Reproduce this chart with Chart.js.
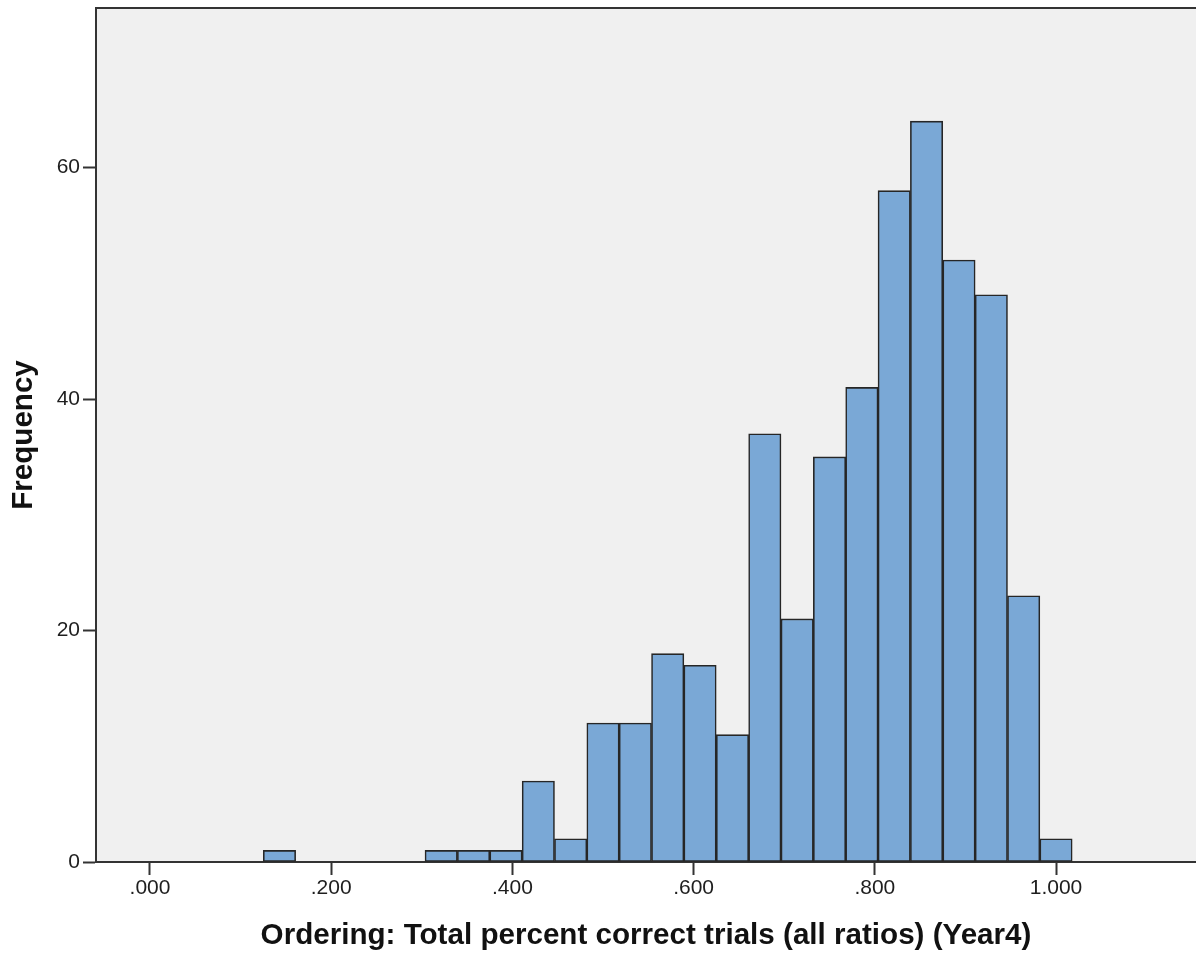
<!DOCTYPE html>
<html>
<head>
<meta charset="utf-8">
<script src="https://cdn.jsdelivr.net/npm/chart.js@4.4.1/dist/chart.umd.min.js"></script>
<style>
  html, body { margin: 0; padding: 0; background: #ffffff; }
  #histo { display: block; }
</style>
</head>
<body>
<canvas id="histo" width="1196" height="954"></canvas>
<script>
  // bin centres (bins are 1/28 wide, starting at .125)
  const binCenters = [0.1429, 0.1786, 0.2143, 0.2500, 0.2857, 0.3214, 0.3571, 0.3929, 0.4286, 0.4643,
    0.5000, 0.5357, 0.5714, 0.6071, 0.6429, 0.6786, 0.7143, 0.7500, 0.7857, 0.8214,
    0.8571, 0.8929, 0.9286, 0.9643, 1.0000];
  const frequencies = [1, 0, 0, 0, 0, 1, 1, 1, 7, 2,
    12, 12, 18, 17, 11, 37, 21, 35, 41, 58,
    64, 52, 49, 23, 2];
  const xTicks = [0, 0.2, 0.4, 0.6, 0.8, 1.0];
  const yTicks = [0, 20, 40, 60];

  const fontFamily = "'Liberation Sans', Arial, sans-serif";
  const axisColor = "#333333";

  const plotFrame = {
    id: "plotFrame",
    beforeDraw(chart) {
      const { ctx, chartArea: a } = chart;
      ctx.save();
      ctx.fillStyle = "#f0f0f0";
      ctx.fillRect(a.left, a.top, a.right - a.left, a.bottom - a.top);
      ctx.restore();
    },
    afterDraw(chart) {
      const { ctx, chartArea: a } = chart;
      ctx.save();
      ctx.strokeStyle = axisColor;
      ctx.lineWidth = 2;
      ctx.beginPath();
      ctx.moveTo(a.left - 1, a.top);
      ctx.lineTo(a.right, a.top);
      ctx.stroke();
      ctx.restore();
    }
  };

  new Chart(document.getElementById("histo"), {
    type: "bar",
    data: {
      datasets: [{
        label: "Frequency",
        data: binCenters.map((x, i) => ({ x: x, y: frequencies[i] || null })),
        backgroundColor: "#7aa8d6",
        borderColor: "#262626",
        borderWidth: 1.6,
        borderSkipped: false,
        barPercentage: 1,
        categoryPercentage: 1
      }]
    },
    options: {
      responsive: false,
      animation: false,
      layout: { padding: { top: 8, right: 0, bottom: 0, left: 0 } },
      plugins: { legend: { display: false }, tooltip: { enabled: false } },
      scales: {
        x: {
          type: "linear",
          offset: false,
          min: -0.0596,
          max: 1.1545,
          afterBuildTicks: (scale) => { scale.ticks = xTicks.map((v) => ({ value: v })); },
          afterFit: (scale) => { scale.height = 92; },
          grid: { offset: false, drawOnChartArea: false, drawTicks: true, tickLength: 13, tickWidth: 2, tickColor: axisColor },
          border: { color: axisColor, width: 2 },
          ticks: {
            padding: 1,
            color: "#1e1e1e",
            font: { family: fontFamily, size: 21 },
            callback: (v) => Number(v).toFixed(3).replace(/^0\./, ".")
          },
          title: {
            display: true,
            text: "Ordering: Total percent correct trials (all ratios) (Year4)",
            color: "#111",
            font: { family: fontFamily, size: 29.6, weight: "bold" },
            padding: { top: 0, bottom: 0 }
          }
        },
        y: {
          min: 0,
          max: 73.78,
          afterBuildTicks: (scale) => { scale.ticks = yTicks.map((v) => ({ value: v })); },
          afterFit: (scale) => {
            scale.width = 96;
            scale.paddingTop = 0;
            scale.paddingBottom = 0;
          },
          grid: { drawOnChartArea: false, drawTicks: true, tickLength: 13, tickWidth: 2, tickColor: axisColor },
          border: { color: axisColor, width: 2 },
          ticks: {
            padding: 3,
            color: "#1e1e1e",
            font: { family: fontFamily, size: 21 }
          },
          title: {
            display: true,
            text: "Frequency",
            color: "#111",
            font: { family: fontFamily, size: 29.6, weight: "bold" },
            padding: { top: 6, bottom: 0 }
          }
        }
      }
    },
    plugins: [plotFrame]
  });
</script>
</body>
</html>
